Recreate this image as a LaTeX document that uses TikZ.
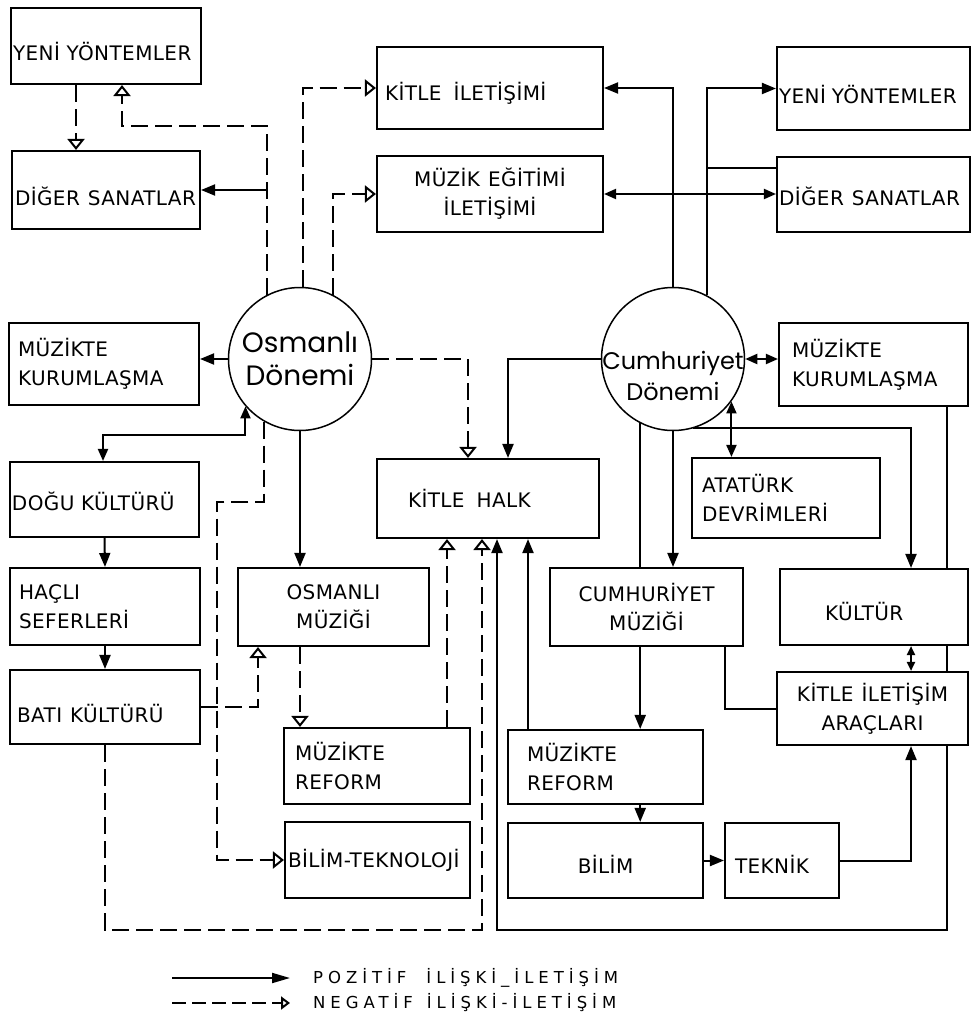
\documentclass[tikz,border=0pt]{standalone}
\usepackage{fontspec}
\usetikzlibrary{arrows.meta,calc}
\newfontfamily\boxfont[LetterSpace=2]{DejaVu Sans}
\newfontfamily\legfont[LetterSpace=30]{DejaVu Sans}
\newfontfamily\circfont{Poppins}
\newcommand\dn[2]{\raisebox{-#1pt}[\height][\depth]{#2}}
\newcommand\bx[8]{%
  \pgfmathsetmacro\bxw{#4-#2}\pgfmathsetmacro\bxh{#5-#3}\pgfmathsetmacro\bxt{#4-#2-2*#6}%
  \pgfmathsetmacro\bxcx{(#2+#4)/2}\pgfmathsetmacro\bxcy{(#3+#5)/2}%
  \node[blk, minimum width=\bxw pt, minimum height=\bxh pt, text width=\bxt pt, align=#7] (#1) at (\bxcx,\bxcy) {#8};}
\tikzset{
  blk/.style={draw, line width=2.1pt, inner sep=0pt, font=\boxfont\fontsize{20}{29}\selectfont},
  period/.style={circle, draw, line width=1.5pt, minimum size=143pt, inner sep=0pt, align=center},
  plainln/.style={draw, line width=2pt},
  posarr/.style={plainln, -{Triangle[length=14pt,width=11pt]}},
  negarr/.style={draw, line width=2pt, dash pattern=on 17pt off 7pt, -{Triangle[open,length=11pt,width=17pt]}},
  dblarr/.style={plainln, {Triangle[length=12pt,width=10pt]}-{Triangle[length=12pt,width=10pt]}},
  legtxt/.style={font=\legfont\fontsize{16.5}{20}\selectfont, inner sep=0pt}
}
\begin{document}
\begin{tikzpicture}[x=1pt,y=-1pt]
\useasboundingbox (0,0) rectangle (975,1027);
% circles
\node[period, font=\circfont\fontsize{28}{33}\selectfont] (osm) at (300,359) {\makebox[0pt]{Osmanlı}\\\makebox[0pt]{Dönemi}};
\node[period, font=\circfont\fontsize{24}{31}\selectfont] (cum) at (673,359) {\dn{17}{\makebox[0pt]{Cumhuriyet}}\\\dn{17}{\makebox[0pt]{Dönemi}}};
% boxes
\bx{yl}{11}{8}{201}{84}{2}{left}{\dn{6}{YENİ YÖNTEMLER}}
\bx{dl}{12}{151}{200}{229}{3}{left}{\dn{6}{DİĞER\hspace{8pt}SANATLAR}}
\bx{ki}{377}{47}{603}{129}{8}{left}{\dn{5}{KİTLE\hspace{12pt}İLETİŞİMİ}}
\bx{me}{377}{156}{603}{232}{0}{center}{MÜZİK\hspace{8pt}EĞİTİMİ\\İLETİŞİMİ}
\bx{yr}{777}{47}{970}{130}{2}{left}{\dn{6}{YENİ\hspace{6pt}YÖNTEMLER}}
\bx{dr}{777}{157}{970}{232}{2}{left}{\dn{2}{DİĞER\hspace{8pt}SANATLAR}}
\bx{mkl}{9}{323}{199}{405}{9}{left}{MÜZİKTE\\KURUMLAŞMA}
\bx{dk}{10}{462}{199}{537}{2}{left}{\dn{2}{DOĞU KÜLTÜRÜ}}
\bx{hs}{10}{568}{200}{645}{9}{left}{HAÇLI\\SEFERLERİ}
\bx{bk}{10}{670}{200}{744}{7}{left}{\dn{7}{BATI\hspace{8pt}KÜLTÜRÜ}}
\bx{om}{238}{568}{429}{646}{0}{center}{OSMANLI\\MÜZİĞİ}
\bx{mrl}{284}{728}{470}{804}{11}{left}{MÜZİKTE\\REFORM}
\bx{bt}{285}{822}{470}{898}{3}{left}{BİLİM-TEKNOLOJİ}
\bx{kh}{377}{459}{599}{538}{31}{left}{KİTLE\hspace{12pt}HALK}
\bx{cm}{550}{568}{743}{646}{0}{center}{CUMHURİYET\\MÜZİĞİ}
\bx{ad}{692}{458}{880}{538}{10}{left}{ATATÜRK\\DEVRİMLERİ}
\bx{mkr}{779}{323}{968}{406}{13}{left}{MÜZİKTE\\KURUMLAŞMA}
\bx{ku}{780}{569}{968}{645}{45}{left}{\dn{5}{KÜLTÜR}}
\bx{ka}{777}{672}{968}{745}{0}{center}{KİTLE\hspace{8pt}İLETİŞİM\\ARAÇLARI}
\bx{mrr}{508}{730}{703}{804}{19}{left}{MÜZİKTE\\REFORM}
\bx{bi}{508}{823}{703}{898}{0}{center}{\dn{4}{BİLİM}}
\bx{te}{725}{823}{839}{898}{10}{left}{\dn{4}{TEKNİK}}
% helper coordinates
\coordinate (b1) at (122,126);
\coordinate (c76) at (76,0);
\coordinate (b2) at (103,435);
\coordinate (c258) at (258,0);
\coordinate (b3) at (482,930);
\coordinate (b4) at (217,502);
\coordinate (c447) at (447,0);
\coordinate (c528) at (528,0);
\coordinate (b5) at (947,930);
\coordinate (b6) at (497,930);
\coordinate (b7) at (706,168);
\coordinate (c911) at (911,0);
\coordinate (c725) at (725,0);
% Osmanli connectors
\draw[negarr] (osm.117.3) |- (b1) -- (b1 |- yl.south);
\draw[posarr] (osm.117.3 |- dl.east) -- (dl.east);
\draw[negarr] (c76 |- yl.south) -- (c76 |- dl.north);
\draw[negarr] (osm.88.4) |- (ki.west);
\draw[negarr] (osm.63.6) |- (me.west);
\draw[posarr] (osm.west) -- (osm.west -| mkl.east);
\draw[dblarr] (b2 |- dk.north) -- (b2) -| (osm.221.6);
\draw[posarr] (dk.south) -- (hs.north);
\draw[posarr] (hs.south) -- (bk.north);
\draw[negarr] (bk.east) -| (c258 |- om.south);
\draw[negarr] (bk.south) |- (b3) -- (b3 |- kh.south);
\draw[negarr] (osm.240.9) |- (b4) |- (bt.west);
\draw[posarr] (osm.south) -- (osm.south |- om.north);
\draw[negarr] (osm.south |- om.south) -- (osm.south |- mrl.north);
\draw[negarr] (c447 |- mrl.north) -- (c447 |- kh.south);
\draw[negarr] (osm.east) -| ([xshift=-20pt]kh.north);
% Cumhuriyet connectors
\draw[posarr] (cum.west) -| ([xshift=20pt]kh.north);
\draw[posarr] (c528 |- mrr.north) -- (c528 |- kh.south);
\draw[posarr] (b5 |- ka.south) -- (b5) -- (b6) -- (b6 |- kh.south);
\draw[posarr] (cum.north) |- (ki.east);
\draw[posarr] (cum.62.3) |- (yr.west);
\draw[plainln] (b7) -- (b7 -| dr.west);
\draw[dblarr] (me.east) -- (me.east -| dr.west);
\draw[dblarr] (cum.east) -- (cum.east -| mkr.west);
\draw[plainln] (b5 |- mkr.south) -- (b5 |- ku.north);
\draw[plainln] (b5 |- ku.south) -- (b5 |- ka.north);
\draw[plainln, {Triangle[length=9pt,width=8pt]}-{Triangle[length=9pt,width=8pt]}] (c911 |- ku.south) -- (c911 |- ka.north);
\draw[posarr] (cum.286.4) -| (c911 |- ku.north);
\draw[dblarr] (cum.324.7) -- (cum.324.7 |- ad.north);
\draw[plainln] (cum.243.2) -- (cum.243.2 |- cm.north);
\draw[posarr] (cum.south) -- (cum.south |- cm.north);
\draw[posarr] (cum.243.2 |- cm.south) -- (cum.243.2 |- mrr.north);
\draw[plainln] (c725 |- cm.south) |- (ka.west);
\draw[posarr] (cum.243.2 |- mrr.south) -- (cum.243.2 |- bi.north);
\draw[posarr] (bi.east) -- (te.west);
\draw[posarr] (te.east) -| (c911 |- ka.south);
% legend
\coordinate (l1a) at (172,978);
\coordinate (l1b) at (290,978);
\coordinate (l2a) at (172,1003);
\coordinate (l2b) at (290,1003);
\draw[plainln, -{Triangle[length=18pt,width=10pt]}] (l1a) -- (l1b);
\draw[negarr, dash pattern=on 14pt off 6pt, -{Triangle[open,length=9pt,width=13pt]}] (l2a) -- (l2b);
\node[legtxt, anchor=west] (lg1) at (313,978) {POZİTİF\hspace{20pt}İLİŞKİ\_İLETİŞİM};
\node[legtxt, anchor=west] (lg2) at (313,1003) {NEGATİF\hspace{14pt}İLİŞKİ-İLETİŞİM};
\end{tikzpicture}
\end{document}
